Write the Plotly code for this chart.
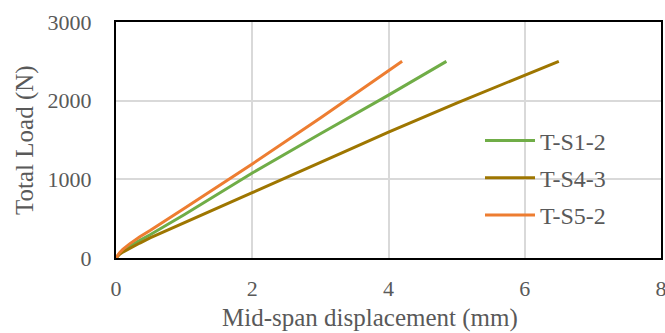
import plotly.graph_objects as go

s1_x = [0, 0.02, 0.05, 0.1, 0.2, 0.35, 0.5, 1, 2, 3, 4, 4.85]
s1_y = [0, 25, 55, 90, 150, 225, 295, 550, 1080, 1580, 2070, 2500]
s4_x = [0, 0.02, 0.05, 0.1, 0.2, 0.35, 0.5, 1, 2, 3.3, 4, 5, 6, 6.5]
s4_y = [0, 22, 45, 75, 125, 190, 255, 450, 830, 1330, 1600, 1970, 2320, 2500]
s5_x = [0, 0.02, 0.05, 0.1, 0.2, 0.35, 0.5, 1, 2, 3, 4, 4.2]
s5_y = [0, 30, 65, 110, 180, 270, 350, 630, 1195, 1780, 2380, 2500]
names = ["T-S1-2", "T-S4-3", "T-S5-2"]
colors = ["#70AD47", "#9E7600", "#ED7D31"]
x_ticks = [0, 2, 4, 6, 8]
y_ticks = [0, 1000, 2000, 3000]

font = "Liberation Serif"
grey = "#595959"

fig = go.Figure()
for xs, ys, n, c in zip([s1_x, s4_x, s5_x], [s1_y, s4_y, s5_y], names, colors):
    fig.add_trace(go.Scatter(x=xs, y=ys, name=n, mode="lines", legendgroup=n,
                             line=dict(color=c, width=3)))

fig.update_layout(
    width=665, height=333,
    margin=dict(l=116, r=4, t=22, b=75, autoexpand=False),
    paper_bgcolor="white", plot_bgcolor="white",
    font=dict(family=font, size=22, color=grey),
    showlegend=True,
    legend=dict(x=(480 - 116) / 545, y=(258 - 178) / 236, xanchor="left", yanchor="middle",
                bgcolor="rgba(0,0,0,0)", font=dict(family=font, size=24, color=grey),
                itemwidth=50, tracegroupgap=3),
    xaxis=dict(range=[0, 8], tickvals=x_ticks, showgrid=True, gridcolor="#D9D9D9", gridwidth=1.5,
               showline=True, linecolor="black", linewidth=2, mirror=True, zeroline=False,
               automargin=False, ticks="", ticklabelstandoff=10, ticklabeloverflow="allow",
               tickfont=dict(family=font, size=22, color=grey)),
    yaxis=dict(range=[0, 3000], tickvals=y_ticks, showgrid=True, gridcolor="#D9D9D9", gridwidth=1.5,
               showline=True, linecolor="black", linewidth=2, mirror=True, zeroline=False,
               automargin=False, ticks="", ticklabelstandoff=18,
               tickfont=dict(family=font, size=22, color=grey)),
    annotations=[
        dict(text="Mid-span displacement (mm)", xref="paper", yref="paper", x=(370 - 116) / 545,
             y=-(318 - 258) / 236, xanchor="center", yanchor="middle", showarrow=False,
             font=dict(family=font, size=25, color=grey)),
        dict(text="Total Load (N)", xref="paper", yref="paper", x=-(116 - 25) / 545, y=0.5,
             xanchor="center", yanchor="middle", textangle=-90, showarrow=False,
             font=dict(family=font, size=25, color=grey)),
    ],
)
fig.write_html("out.html", config={"displayModeBar": False},
               post_script="document.body.style.margin='0';document.body.style.overflow='hidden';")
